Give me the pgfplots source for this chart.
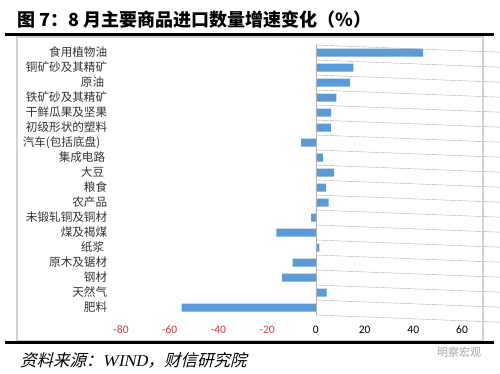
\documentclass[border=0pt]{standalone}
\usepackage{fontspec}
\usepackage{pgfplots}
\pgfplotsset{compat=1.18}
\setmainfont{Carlito}
\newfontfamily\cjk{Noto Sans CJK SC}
\newfontfamily\cjkit{Noto Sans CJK SC}[FakeSlant=0.25]
\newfontfamily\serit{Liberation Serif}[FakeSlant=0.2]
\definecolor{barblue}{HTML}{5B9BD5}
\definecolor{negred}{HTML}{D63A3A}
\definecolor{labgray}{HTML}{333333}
\begin{document}
\begin{tikzpicture}[x=1pt,y=1pt]
\path[use as bounding box] (0,0) rectangle (500,373);
\fill[white] (0,0) rectangle (500,373);
\node[anchor=west, inner sep=0pt, font=\cjk\bfseries\fontsize{18}{21}\selectfont] at (17,353) {图 7：8 月主要商品进口数量增速变化（\%）};
\draw[gray!35, line width=1.5pt] (17,32) rectangle (483,336);
\draw[line width=3pt] (5,338) -- (494,338);
\draw[line width=3pt] (5,31) -- (494,31);
\node[anchor=west, inner sep=0pt, font=\cjkit\fontsize{16.5}{19}\selectfont] at (20,13) {资料来源：{\serit WIND}，财信研究院};
\node[anchor=west, inner sep=0pt, text=gray!70, font=\cjk\fontsize{11}{12}\selectfont] at (437,21) {明察宏观};
\begin{axis}[
  at={(121pt,58pt)}, anchor=south west,
  scale only axis, width=341pt, height=270pt,
  xmin=-80, xmax=60, ymin=-0.5, ymax=17.5,
  y dir=reverse,
  xbar, bar width=8pt,
  axis line style={draw=none},
  tick style={draw=none},
  clip=false,
  xtick={-80,-60,-40,-20,0,20,40,60},
  xticklabels={\textcolor{negred}{-80},\textcolor{negred}{-60},\textcolor{negred}{-40},\textcolor{negred}{-20},0,20,40,60},
  xticklabel style={font=\fontsize{11.5}{12}\selectfont, yshift=-7pt},
  ytick={0,...,17},
  yticklabels={食用植物油,铜矿砂及其精矿,原油\hspace*{3pt},铁矿砂及其精矿,干鲜瓜果及坚果,初级形状的塑料,汽车(包括底盘)\hspace*{7pt},集成电路\hspace*{2pt},大豆\hspace*{3pt},粮食,农产品,未锻轧铜及铜材,煤及褐煤,纸浆\hspace*{3pt},原木及锯材,钢材,天然气,肥料},
  yticklabel style={font=\cjk\fontsize{11.6}{12}\selectfont, text=labgray, xshift=-6pt},
]
\addplot[fill=barblue, draw=none] coordinates {
(44,0) (15.4,1) (14.1,2) (8.4,3) (6.3,4) (6.2,5) (-6.0,6) (2.9,7) (7.4,8)
(4.2,9) (5.2,10) (-1.9,11) (-16.2,12) (1.4,13) (-9.5,14) (-13.9,15) (4.4,16) (-55.1,17)};
\draw[gray!60] (axis cs:0,-0.5) -- (axis cs:0,17.5);
\pgfplotsinvokeforeach{-0.5,0.5,...,17.5}{\draw[gray!60] (axis cs:0,#1) -- ++(-3pt,0);}
\end{axis}
\end{tikzpicture}
\end{document}
